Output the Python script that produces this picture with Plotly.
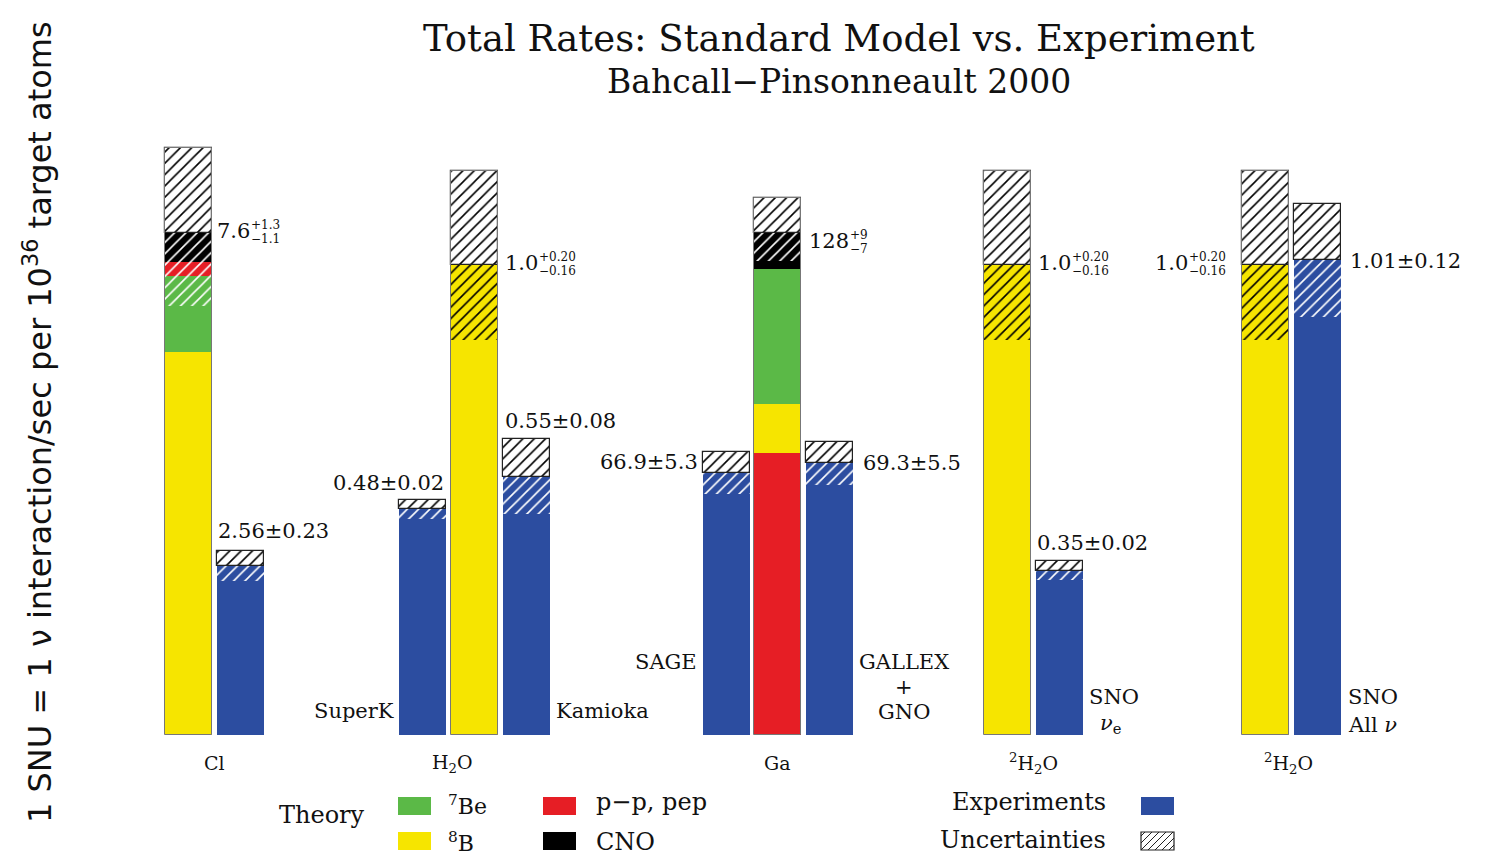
import plotly.graph_objects as go

# ---------------- data ----------------
group_labels = ["Cl", "H<sub>2</sub>O", "Ga", "<sup>2</sup>H<sub>2</sub>O", "<sup>2</sup>H<sub>2</sub>O"]

# theory components (stacking order bottom -> top)
cl_components = ["8B", "7Be", "pp", "CNO"]
cl_values = [5.80, 1.15, 0.22, 0.43]          # SNU, total 7.6
ga_components = ["pp", "8B", "7Be", "CNO"]
ga_values = [72.0, 12.4, 34.4, 9.2]           # SNU, total 128
h2o_components = ["8B"]
h2o_values = [1.0]                            # ratio to SSM

theory_labels = ["7.6", "1.0", "128", "1.0", "1.0"]
theory_err_hi = [1.3, 0.20, 9, 0.20, 0.20]
theory_err_lo = [1.1, 0.16, 7, 0.16, 0.16]
theory_err_hi_txt = ["+1.3", "+0.20", "+9", "+0.20", "+0.20"]
theory_err_lo_txt = ["−1.1", "−0.16", "−7", "−0.16", "−0.16"]

exp_names = ["Homestake", "SuperK", "Kamioka", "SAGE", "GALLEX + GNO", "SNO νe", "SNO All ν"]
exp_group = [0, 1, 1, 2, 2, 3, 4]
exp_values = [2.56, 0.48, 0.55, 66.9, 69.3, 0.35, 1.01]
exp_errors = [0.23, 0.02, 0.08, 5.3, 5.5, 0.02, 0.12]
exp_labels = ["2.56±0.23", "0.48±0.02", "0.55±0.08", "66.9±5.3", "69.3±5.5", "0.35±0.02", "1.01±0.12"]

legend_theory = ["<sup>7</sup>Be", "<sup>8</sup>B", "p−p, pep", "CNO"]

# ---------------- styling / layout ----------------
COL = {"8B": "#F6E500", "7Be": "#5BB947", "pp": "#E61E25", "CNO": "#000000", "exp": "#2C4DA0"}
STRIPE = {"8B": "#000000", "7Be": "#FFFFFF", "pp": "#FFFFFF", "CNO": "#FFFFFF", "exp": "#FFFFFF"}
# vertical scale of each group (display units per native unit)
group_scale = [0.1404, 1.0, 0.00834, 1.0, 1.0]
# x position of each theory bar and experiment bars (slot units)
theory_x = [3.625, 9.125, 14.96, 19.37, 24.33]
exp_x = [4.625, 8.125, 10.125, 13.98, 15.96, 20.375, 25.34]
group_x = [4.13, 8.7, 14.96, 19.87, 24.77]
W = 0.905

FW, FH = 1489, 855
BASE_PX, PX_UNIT, SLOT = 735, 470.0, 52.0
def X(px):
    return px / SLOT
def Y(py):
    return (BASE_PX - py) / PX_UNIT

SERIF = "DejaVu Serif"
fig = go.Figure()

def seg(x, y0, y1, color, fg=None, line=0, linecolor="#222"):
    if y1 <= y0:
        return
    marker = dict(color=color, line=dict(width=line, color=linecolor))
    if fg is not None:
        marker["pattern"] = dict(shape="/", fgcolor=fg, bgcolor=color, size=8,
                                 solidity=0.2, fillmode="replace")
    fig.add_trace(go.Bar(x=[x], y=[y1 - y0], base=[y0], width=W, marker=marker,
                         showlegend=False, hoverinfo="skip"))

theory_sets = [(cl_components, cl_values), (h2o_components, h2o_values),
               (ga_components, ga_values), (h2o_components, h2o_values),
               (h2o_components, h2o_values)]

for g, (comps, vals) in enumerate(theory_sets):
    s = group_scale[g]
    x = theory_x[g]
    total = sum(vals)
    lo = (total - theory_err_lo[g]) * s
    hi = (total + theory_err_hi[g]) * s
    a = 0.0
    for c, v in zip(comps, vals):
        b = a + v * s
        seg(x, a, min(b, lo), COL[c])
        seg(x, max(a, lo), b, COL[c], fg=STRIPE[c])
        a = b
    seg(x, a, hi, "#FFFFFF", fg="#000000", line=1.2)
    # outline
    fig.add_trace(go.Bar(x=[x], y=[hi], base=[0], width=W,
                         marker=dict(color="rgba(0,0,0,0)", line=dict(width=1, color="#777")),
                         showlegend=False, hoverinfo="skip"))

for i, (g, v, e) in enumerate(zip(exp_group, exp_values, exp_errors)):
    s = group_scale[g]
    x = exp_x[i]
    seg(x, 0, (v - e) * s, COL["exp"])
    seg(x, (v - e) * s, v * s, COL["exp"], fg="#FFFFFF")
    seg(x, v * s, (v + e) * s, "#FFFFFF", fg="#000000", line=1.2)

ann = []
def txt(px, py, text, size=20, xanchor="left", family=SERIF, color="#111", **kw):
    ann.append(dict(x=X(px), y=Y(py), xref="x", yref="y", text=text, showarrow=False,
                    xanchor=xanchor, yanchor="middle", font=dict(family=family, size=size, color=color), **kw))

# title
txt(839, 38, "Total Rates: Standard Model vs. Experiment", size=37, xanchor="center")
txt(839, 81, "Bahcall−Pinsonneault 2000", size=33, xanchor="center")
# y title
ann.append(dict(x=X(38), y=Y(422), xref="x", yref="y", textangle=-90, showarrow=False,
                text="1 SNU = 1 ν interaction/sec per 10<sup>36</sup> target atoms",
                font=dict(family="DejaVu Sans", size=32, color="#111")))

# theory labels: main number + stacked errors
def textwidth(s, size):
    w = 0.0
    for ch in s:
        w += 0.318 if ch == "." else 0.636
    return w * size

LAB = 21
theory_lab_pos = [(215, 231, "left"), (503, 263, "left"), (807, 241, "left"),
                  (1036, 263, "left"), (1153, 263, "left")]
for g, (px, py, _) in enumerate(theory_lab_pos):
    main = theory_labels[g]
    mw = textwidth(main, LAB)
    txt(px, py, main, size=LAB)
    txt(px + mw + 1, py - 6, theory_err_hi_txt[g], size=12)
    txt(px + mw + 1, py + 8, theory_err_lo_txt[g], size=12)

# experiment labels
exp_lab_pos = [(216, 531, "left"), (446, 483, "right"), (503, 421, "left"),
                (700, 462, "right"), (861, 463, "left"), (1035, 543, "left"), (1348, 261, "left")]
for i, (px, py, xa) in enumerate(exp_lab_pos):
    txt(px, py, exp_labels[i], size=LAB, xanchor=xa)

# experiment names
NM = 21
txt(396, 711, "SuperK", size=NM, xanchor="right")
txt(554, 711, "Kamioka", size=NM)
txt(699, 662, "SAGE", size=NM, xanchor="right")
txt(904, 662, "GALLEX", size=NM, xanchor="center")
txt(904, 687, "+", size=NM, xanchor="center")
txt(904, 712, "GNO", size=NM, xanchor="center")
txt(1087, 697, "SNO", size=NM)
txt(1098, 724, "<i>ν</i><sub>e</sub>", size=NM)
txt(1346, 697, "SNO", size=NM)
txt(1346, 725, "All <i>ν</i>", size=NM)

# group labels
for g, lab in enumerate(group_labels):
    txt(group_x[g] * SLOT, 763, lab, size=19, xanchor="center")

# legend
shapes = []
def box(x0, y0, x1, y1, color, line=0):
    shapes.append(dict(type="rect", xref="x", yref="y", x0=X(x0), x1=X(x1), y0=Y(y1), y1=Y(y0),
                       fillcolor=color, line=dict(width=line, color="#222")))

LG = 24
txt(322, 815, "Theory", size=LG, xanchor="center")
box(398, 797, 431, 815, COL["7Be"])
box(398, 832, 431, 850, COL["8B"])
box(543, 797, 576, 815, COL["pp"])
box(543, 832, 576, 850, COL["CNO"])
txt(446, 805, legend_theory[0], size=22)
txt(446, 842, legend_theory[1], size=22)
txt(594, 802, legend_theory[2], size=LG)
txt(594, 842, legend_theory[3], size=LG)
txt(1108, 802, "Experiments", size=LG, xanchor="right")
txt(1108, 840, "Uncertainties", size=LG, xanchor="right")
box(1141, 797, 1174, 815, COL["exp"])
box(1141, 832, 1174, 850, "#FFFFFF", line=1.2)
# hatch lines in legend swatch
hx0, hx1, hy0, hy1 = 1141, 1174, 832, 850
path = ""
for k in range(-3, 6):
    xa = hx0 + k * 7
    x0c, y0c = xa, hy1
    x1c, y1c = xa + (hy1 - hy0), hy0
    if x0c < hx0:
        y0c -= (hx0 - x0c); x0c = hx0
    if x1c > hx1:
        y1c += (x1c - hx1); x1c = hx1
    if x0c >= x1c:
        continue
    path += f"M{X(x0c)},{Y(y0c)} L{X(x1c)},{Y(y1c)} "
shapes.append(dict(type="path", xref="x", yref="y", path=path, line=dict(width=1, color="#222")))

fig.update_layout(
    width=FW, height=FH,
    margin=dict(l=0, r=0, t=0, b=0),
    paper_bgcolor="white", plot_bgcolor="white",
    barmode="overlay", bargap=0,
    xaxis=dict(range=[0, FW / SLOT], visible=False, fixedrange=True),
    yaxis=dict(range=[Y(FH), Y(0)], visible=False, fixedrange=True),
    annotations=ann, shapes=shapes, showlegend=False,
)
fig.write_html("out.html", config={"displayModeBar": False},
               post_script="document.body.style.margin='0px';document.body.style.overflow='hidden';")
